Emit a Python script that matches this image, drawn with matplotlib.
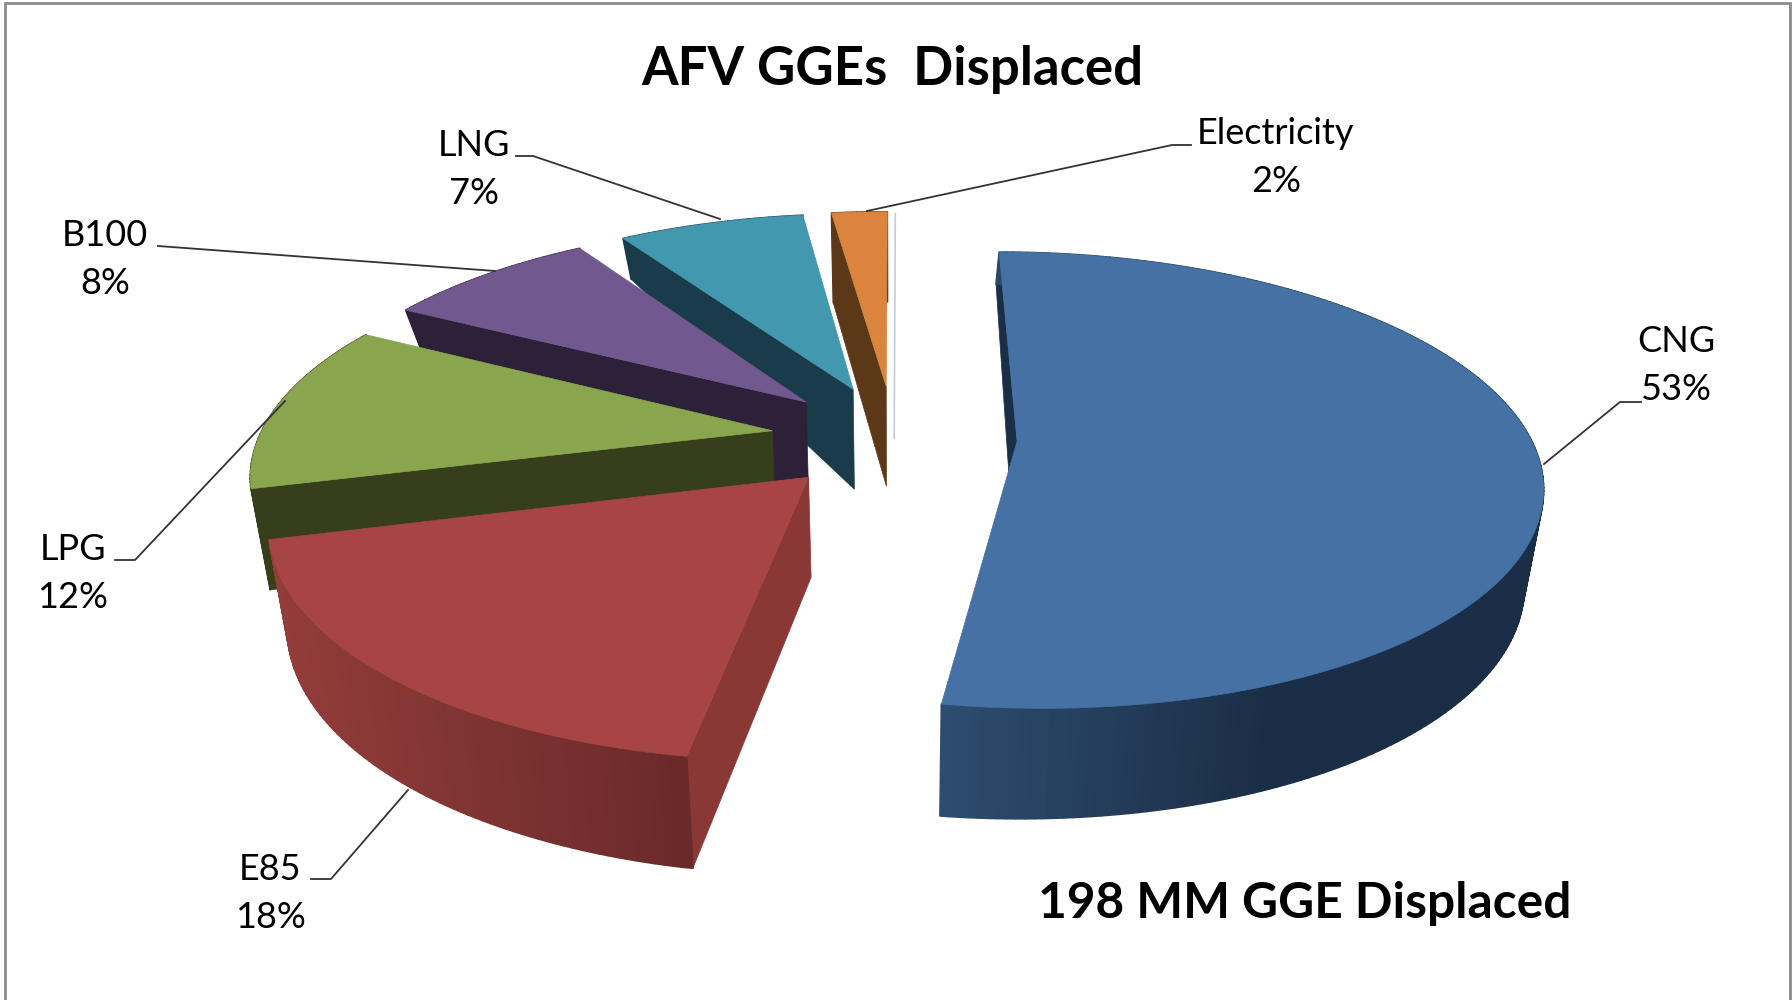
import numpy as np
import matplotlib
matplotlib.use("Agg")
import matplotlib.pyplot as plt
from matplotlib.collections import PolyCollection
from matplotlib.patches import Polygon

categories = ['CNG', 'E85', 'LPG', 'B100', 'LNG', 'Electricity']
values = [52.6, 18.3, 12.0, 8.0, 7.0, 2.1]

top_colors = ['#4571a4', '#a74544', '#89a54e', '#71588f', '#4198af', '#db843d']
side_colors = ['#1b2e47', '#8a3836', '#373e1c', '#2c2138', '#1a3c4a', '#5a3818']
rim_light = ['#2e4d70', '#933d3a', '#373e1c', '#2c2138', '#1a3c4a', '#5a3818']
rim_dark = ['#1b2e47', '#6a2a2a', '#373e1c', '#2c2138', '#1a3c4a', '#5a3818']
rim_fade = [0.55, 1.0, 1.0, 1.0, 1.0, 1.0]

# projection of the pie plane to the picture (pixels)
X0, Y0 = 894, 437
RX, RY = 513, 220
PERSP = 0.17
EXPLODE = 0.24
SHRINK = 0.97
depth_angle = [0, 90, 190, 256, 299, 328, 350, 360]
depth_px = [32, 95, 112, 101, 37, 41, 90, 90]
HUB_DEPTH = 100

# label text centre and leader path, one per category
label_x = [1676, 270, 73, 105, 474, 1276]
label_y = [342, 870, 550, 236, 146, 134]
leaders = [
    [(1641, 402), (1620, 402), (1544, 464)],
    [(311, 879), (331, 879), (408, 790)],
    [(115, 560), (135, 560), (285, 401)],
    [(158, 246), (495, 271)],
    [(516, 156), (533, 156), (720, 219)],
    [(1191, 145), (1172, 145), (867, 211)],
]


def project(u, v):
    s = 1 / (1 + PERSP * v)
    return X0 + RX * u * s, Y0 - RY * v * s


def lower(x, y, depth):
    return X0 + (x - X0) * SHRINK, y + depth


def mix(c1, c2, t):
    a = np.array(matplotlib.colors.to_rgb(c1))
    b = np.array(matplotlib.colors.to_rgb(c2))
    return tuple(a + (b - a) * t)


fig = plt.figure(figsize=(17.92, 10), dpi=100)
ax = fig.add_axes([0, 0, 1, 1])
ax.set_xlim(0, 1792)
ax.set_ylim(1000, 0)
ax.axis('off')

# clockwise from twelve o'clock
edges = np.concatenate([[0], np.cumsum(values)]) / sum(values) * 2 * np.pi

slices = []
for i in range(len(values)):
    a0, a1 = edges[i], edges[i + 1]
    mid = (a0 + a1) / 2
    ex, ey = EXPLODE * np.sin(mid), EXPLODE * np.cos(mid)
    th = np.linspace(a0, a1, max(int(values[i] * 4), 12))
    rx, ry = project(ex + np.sin(th), ey + np.cos(th))
    hx, hy = project(ex, ey)
    d = np.interp(np.degrees(th), depth_angle, depth_px)
    lx, ly = lower(rx, ry, d)
    hlx, hly = lower(hx, hy, HUB_DEPTH)
    slices.append((i, rx, ry, lx, ly, hx, hy, hlx, hly))

# back slices first so the front ones cover them
for i, rx, ry, lx, ly, hx, hy, hlx, hly in sorted(slices, key=lambda s: s[6]):
    # the cut face along the start edge of the slice
    face = [(hx, hy), (rx[0], ry[0]), (lx[0], ly[0]), (hlx, hly)]
    ax.add_patch(Polygon(face, closed=True, fc=side_colors[i], ec=side_colors[i], lw=0.5))

    # outer rim with its left to right shading
    quads = []
    cols = []
    xspan = rx.max() - rx.min()
    for j in range(len(rx) - 1):
        quads.append([(rx[j], ry[j]), (rx[j + 1], ry[j + 1]), (lx[j + 1], ly[j + 1]), (lx[j], ly[j])])
        t = min((rx[j] - rx.min()) / xspan / rim_fade[i], 1)
        cols.append(mix(rim_light[i], rim_dark[i], t))
    ax.add_collection(PolyCollection(quads, facecolors=cols, edgecolors=cols, linewidths=1.2))

    pts = [(hx, hy)] + list(zip(rx, ry))
    ax.add_patch(Polygon(pts, closed=True, fc=top_colors[i], ec=top_colors[i], lw=0.5))

# thin line next to the Electricity slice
elec = slices[5]
ax.plot([elec[1][-1] + 8, elec[5] + 8], [elec[2][-1] + 2, elec[8] - 48], color='#c4ccd8', lw=1.2)

for i, name in enumerate(categories):
    ax.text(label_x[i], label_y[i], name, family='Lato', fontsize=26, ha='center', va='center', color='black')
    ax.text(label_x[i], label_y[i] + 48, f"{round(values[i])}%", family='Lato', fontsize=26, ha='center', va='center', color='black')
    xs, ys = zip(*leaders[i])
    ax.plot(xs, ys, color='#333333', lw=1.3)

ax.text(892, 70, 'AFV GGEs  Displaced', family='Lato', fontweight='bold', fontsize=38, ha='center', va='center', color='black')
ax.text(1305, 903, '198 MM GGE Displaced', family='Lato', fontweight='bold', fontsize=35.7, ha='center', va='center', color='black')

# chart frame, no line along the bottom
ax.plot([5, 5, 1790, 1790], [1000, 3, 3, 1000], color='#8c8c8c', lw=2, solid_joinstyle='miter')

fig.savefig('out.png', dpi=100)
